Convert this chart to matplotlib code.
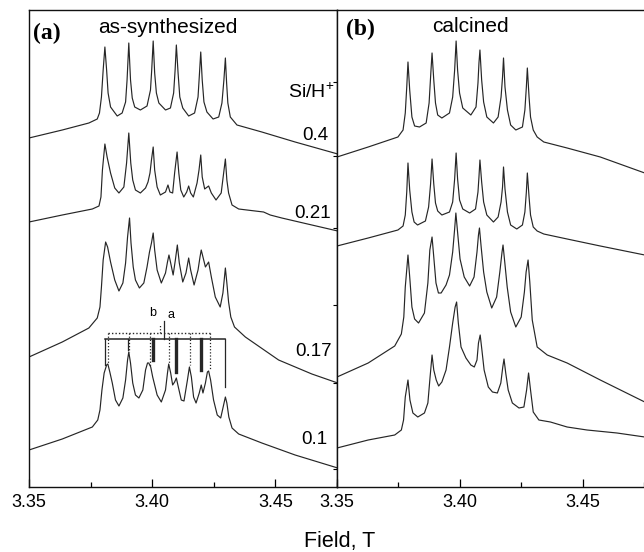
import matplotlib
matplotlib.use('Agg')
import matplotlib.pyplot as plt

plt.rcParams['font.family'] = ['Liberation Sans', 'DejaVu Sans']
plt.rcParams['mathtext.fontset'] = 'custom'
plt.rcParams['mathtext.rm'] = 'Liberation Sans'

# ---------------- data (field in T, intensity in arbitrary units, offset stacked) ----------------
ratios = ['0.4', '0.21', '0.17', '0.1']
xticks = [3.35, 3.40, 3.45]
xtick_labels = ['3.35', '3.40', '3.45']

# (a) as-synthesized
a04_field = [3.3500, 3.3635, 3.3743, 3.3777, 3.3786, 3.3794, 3.3801, 3.3808, 3.3815, 3.3821, 3.3831, 3.3858,
             3.3878, 3.3892, 3.3898, 3.3905, 3.3912, 3.3919, 3.3929, 3.3952, 3.3979, 3.3993, 3.3998, 3.4004,
             3.4010, 3.4017, 3.4027, 3.4054, 3.4074, 3.4087, 3.4093, 3.4098, 3.4105, 3.4112, 3.4124, 3.4148,
             3.4172, 3.4186, 3.4191, 3.4197, 3.4203, 3.4210, 3.4222, 3.4247, 3.4270, 3.4283, 3.4291, 3.4297,
             3.4302, 3.4307, 3.4317, 3.4344, 3.4445, 3.4580, 3.4753]
a04_int = [349, 357, 364, 368, 374, 390, 417, 440, 417, 394, 380, 371, 374, 385, 407, 444, 407, 389, 380, 377,
           381, 397, 417, 446, 414, 394, 384, 377, 379, 394, 417, 442, 414, 390, 379, 371, 374, 390, 410, 435,
           407, 385, 375, 368, 370, 384, 407, 429, 404, 384, 370, 362, 355, 345, 333]

a021_field = [3.3500, 3.3635, 3.3757, 3.3784, 3.3792, 3.3798, 3.3808, 3.3817, 3.3831, 3.3848, 3.3865, 3.3885,
              3.3896, 3.3905, 3.3913, 3.3921, 3.3932, 3.3952, 3.3973, 3.3983, 3.3991, 3.3997, 3.4004, 3.4010,
              3.4020, 3.4033, 3.4054, 3.4064, 3.4072, 3.4083, 3.4091, 3.4101, 3.4108, 3.4116, 3.4128, 3.4140,
              3.4148, 3.4156, 3.4167, 3.4182, 3.4190, 3.4197, 3.4203, 3.4213, 3.4229, 3.4240, 3.4259, 3.4280,
              3.4290, 3.4297, 3.4303, 3.4310, 3.4324, 3.4351, 3.4418, 3.4452, 3.4479, 3.4526, 3.4648, 3.4753]
a021_int = [265, 272, 278, 281, 290, 317, 343, 330, 314, 299, 294, 300, 324, 354, 324, 307, 297, 294, 299, 305,
            314, 327, 340, 317, 300, 292, 295, 302, 295, 294, 314, 335, 314, 297, 290, 295, 301, 294, 290, 304,
            317, 332, 310, 298, 301, 294, 287, 294, 314, 328, 307, 294, 282, 278, 276, 275, 272, 269, 262, 256]

a017_field = [3.3500, 3.3635, 3.3743, 3.3777, 3.3788, 3.3794, 3.3801, 3.3811, 3.3819, 3.3831, 3.3848, 3.3865,
              3.3881, 3.3892, 3.3900, 3.3908, 3.3914, 3.3923, 3.3932, 3.3948, 3.3966, 3.3979, 3.3989, 3.3997,
              3.4004, 3.4010, 3.4020, 3.4037, 3.4054, 3.4062, 3.4068, 3.4075, 3.4085, 3.4094, 3.4102, 3.4110,
              3.4124, 3.4137, 3.4148, 3.4156, 3.4170, 3.4186, 3.4194, 3.4199, 3.4209, 3.4216, 3.4229, 3.4240,
              3.4256, 3.4276, 3.4287, 3.4297, 3.4303, 3.4310, 3.4319, 3.4334, 3.4378, 3.4513, 3.4648, 3.4753]
a017_int = [130, 145, 159, 169, 180, 200, 227, 245, 240, 225, 207, 196, 204, 224, 250, 269, 244, 220, 207, 199,
            204, 220, 235, 244, 254, 237, 217, 204, 214, 225, 232, 224, 212, 227, 242, 224, 205, 214, 229, 217,
            202, 217, 230, 237, 227, 220, 225, 210, 190, 180, 194, 219, 204, 185, 170, 160, 150, 127, 113, 104]

a01_field = [3.3500, 3.3635, 3.3757, 3.3779, 3.3788, 3.3796, 3.3805, 3.3815, 3.3820, 3.3828, 3.3838, 3.3851,
             3.3865, 3.3881, 3.3892, 3.3900, 3.3905, 3.3912, 3.3921, 3.3932, 3.3946, 3.3962, 3.3973, 3.3981,
             3.3986, 3.3994, 3.4002, 3.4020, 3.4037, 3.4054, 3.4062, 3.4067, 3.4075, 3.4083, 3.4091, 3.4098,
             3.4106, 3.4118, 3.4129, 3.4143, 3.4151, 3.4159, 3.4168, 3.4178, 3.4191, 3.4199, 3.4206, 3.4216,
             3.4224, 3.4229, 3.4237, 3.4249, 3.4264, 3.4278, 3.4288, 3.4297, 3.4303, 3.4311, 3.4324, 3.4351,
             3.4445, 3.4580, 3.4753]
a01_int = [37, 48, 60, 67, 77, 97, 114, 122, 123, 115, 104, 87, 81, 89, 107, 127, 135, 124, 104, 92, 89, 97,
           117, 124, 124, 120, 110, 92, 85, 97, 114, 123, 114, 102, 105, 109, 100, 87, 86, 107, 120, 110, 90,
           84, 94, 102, 94, 104, 115, 116, 107, 87, 72, 69, 80, 90, 84, 70, 59, 53, 44, 32, 19]

# stick diagram of the two sextets (site a solid, site b dotted) drawn above the 0.1 spectrum
site_a_lines = [3.3808, 3.3902, 3.4003, 3.4098, 3.4199, 3.4294]
site_a_ends = [122, 137, 127, 115, 117, 100]
site_a_thick = [False, False, True, True, True, False]
site_b_lines = [3.3819, 3.3906, 3.3990, 3.4067, 3.4152, 3.4233]
site_b_ends = [123, 135, 120, 123, 122, 117]
site_a_level, site_b_level = 148, 154
site_a_centre, site_b_centre = 3.4047, 3.4032

# (b) calcined
b04_field = [3.3500, 3.3627, 3.3748, 3.3769, 3.3778, 3.3784, 3.3789, 3.3796, 3.3805, 3.3816, 3.3836, 3.3863,
             3.3875, 3.3882, 3.3887, 3.3894, 3.3901, 3.3910, 3.3927, 3.3958, 3.3971, 3.3979, 3.3985, 3.3991,
             3.3999, 3.4012, 3.4045, 3.4066, 3.4074, 3.4078, 3.4082, 3.4089, 3.4097, 3.4110, 3.4137, 3.4156,
             3.4168, 3.4174, 3.4178, 3.4184, 3.4194, 3.4207, 3.4228, 3.4255, 3.4265, 3.4271, 3.4275, 3.4282,
             3.4288, 3.4299, 3.4315, 3.4342, 3.4437, 3.4572, 3.4753]
b04_int = [330, 340, 350, 357, 374, 400, 425, 397, 370, 361, 360, 364, 384, 414, 434, 407, 384, 372, 369, 374,
           390, 417, 446, 417, 394, 379, 372, 380, 404, 424, 437, 407, 385, 370, 364, 370, 390, 410, 429, 400,
           377, 362, 357, 360, 377, 400, 419, 390, 370, 357, 350, 345, 339, 330, 314]

b021_field = [3.3500, 3.3627, 3.3748, 3.3769, 3.3778, 3.3784, 3.3789, 3.3796, 3.3805, 3.3814, 3.3828, 3.3860,
              3.3873, 3.3881, 3.3887, 3.3894, 3.3901, 3.3910, 3.3927, 3.3958, 3.3971, 3.3979, 3.3985, 3.3991,
              3.3999, 3.4012, 3.4040, 3.4064, 3.4074, 3.4078, 3.4082, 3.4089, 3.4097, 3.4110, 3.4137, 3.4156,
              3.4168, 3.4174, 3.4178, 3.4184, 3.4194, 3.4207, 3.4232, 3.4255, 3.4265, 3.4271, 3.4275, 3.4282,
              3.4288, 3.4299, 3.4315, 3.4342, 3.4437, 3.4572, 3.4753]
b021_int = [241, 249, 257, 261, 272, 295, 324, 297, 275, 265, 262, 266, 280, 303, 328, 303, 284, 276, 272, 275,
            285, 308, 334, 308, 287, 278, 274, 278, 295, 310, 327, 305, 285, 272, 265, 270, 285, 300, 320, 298,
            275, 262, 258, 262, 275, 295, 314, 290, 272, 260, 256, 253, 248, 241, 232]

b017_field = [3.3500, 3.3627, 3.3735, 3.3762, 3.3772, 3.3778, 3.3789, 3.3797, 3.3805, 3.3816, 3.3832, 3.3856,
              3.3870, 3.3878, 3.3887, 3.3894, 3.3903, 3.3913, 3.3924, 3.3944, 3.3958, 3.3971, 3.3979, 3.3984,
              3.3992, 3.4001, 3.4018, 3.4040, 3.4058, 3.4070, 3.4076, 3.4080, 3.4087, 3.4097, 3.4110, 3.4130,
              3.4150, 3.4163, 3.4172, 3.4176, 3.4183, 3.4193, 3.4207, 3.4228, 3.4250, 3.4263, 3.4270, 3.4278,
              3.4285, 3.4295, 3.4315, 3.4356, 3.4437, 3.4572, 3.4753]
b017_int = [110, 124, 141, 153, 170, 200, 232, 207, 180, 168, 164, 174, 204, 237, 250, 230, 204, 194, 194, 202,
            212, 235, 258, 274, 252, 228, 210, 201, 210, 235, 252, 259, 240, 215, 195, 179, 190, 215, 235, 242,
            225, 200, 175, 160, 170, 195, 215, 227, 205, 167, 140, 132, 124, 107, 85]

b01_field = [3.3500, 3.3627, 3.3735, 3.3762, 3.3771, 3.3778, 3.3789, 3.3797, 3.3809, 3.3829, 3.3856, 3.3870,
             3.3879, 3.3887, 3.3894, 3.3904, 3.3914, 3.3927, 3.3944, 3.3958, 3.3971, 3.3981, 3.3987, 3.3994,
             3.4005, 3.4025, 3.4045, 3.4059, 3.4070, 3.4076, 3.4083, 3.4090, 3.4099, 3.4116, 3.4133, 3.4153,
             3.4167, 3.4175, 3.4180, 3.4187, 3.4197, 3.4214, 3.4241, 3.4261, 3.4272, 3.4280, 3.4288, 3.4299,
             3.4322, 3.4369, 3.4437, 3.4518, 3.4640, 3.4753]
b01_int = [39, 47, 52, 57, 67, 90, 107, 87, 74, 70, 74, 84, 110, 132, 117, 107, 101, 105, 117, 140, 164, 180,
           185, 164, 140, 129, 122, 120, 127, 144, 152, 137, 117, 100, 95, 94, 104, 120, 128, 114, 97, 84, 79,
           80, 97, 114, 97, 75, 67, 65, 60, 57, 54, 50]

# ---------------- figure ----------------
W, H = 644, 552
fig = plt.figure(figsize=(W / 100, H / 100), dpi=100)
axa = fig.add_axes([29 / W, 1 - 487 / H, 308 / W, 477 / H])
axb = fig.add_axes([337 / W, 1 - 487 / H, 307 / W, 477 / H])

line_kw = dict(color='#262626', lw=0.85)
for f, y in [(a04_field, a04_int), (a021_field, a021_int), (a017_field, a017_int), (a01_field, a01_int)]:
    axa.plot(f, y, **line_kw)
for f, y in [(b04_field, b04_int), (b021_field, b021_int), (b017_field, b017_int), (b01_field, b01_int)]:
    axb.plot(f, y, **line_kw)

# stick diagram
axa.plot([site_a_lines[0], site_a_lines[-1]], [site_a_level] * 2, color='#262626', lw=1.1)
axa.plot([site_b_lines[0], site_b_lines[-1]], [site_b_level] * 2, color='#262626', lw=1.0, ls=(0, (1, 1.5)))
for x, e, thick in zip(site_a_lines, site_a_ends, site_a_thick):
    axa.plot([x, x], [site_a_level, e], color='#262626', lw=2.4 if thick else 0.9)
for x, e in zip(site_b_lines, site_b_ends):
    axa.plot([x, x], [site_b_level, e], color='#262626', lw=0.9, ls=(0, (1, 1.5)))
axa.plot([site_a_centre] * 2, [site_a_level, 166], color='#262626', lw=0.9)
axa.plot([site_b_centre] * 2, [site_b_level, 162], color='#262626', lw=0.9, ls=(0, (1, 1.5)))
axa.text(3.4003, 174, 'b', fontsize=9, ha='center', va='center')
axa.text(3.4075, 172, 'a', fontsize=9, ha='center', va='center')

for ax in (axa, axb):
    ax.set_xlim(3.35, 3.4747)
    ax.set_ylim(0, 477)
    ax.set_xticks(xticks)
    ax.set_xticklabels(xtick_labels, fontsize=13)
    ax.set_xticks([3.375, 3.425, 3.475], minor=True)
    ax.tick_params(axis='x', which='major', direction='in', length=6, width=0.9, pad=5, top=False)
    ax.tick_params(axis='x', which='minor', direction='in', length=3.5, width=0.9, top=False)
    for s in ax.spines.values():
        s.set_linewidth(1.0)
        s.set_color('#111111')

axa.set_yticks([])
axb.set_yticks([18, 104, 182, 259, 331, 405])
axb.set_yticklabels([])
axb.tick_params(axis='y', direction='out', length=3, width=0.8)
axb.spines['right'].set_visible(False)

# panel labels and annotations
axa.text(3.3515, 454, '(a)', fontsize=17, fontweight='bold', family='Liberation Serif', ha='left', va='center')
axa.text(3.4063, 454, 'as-synthesized', fontsize=15, ha='center', va='baseline')
axb.text(3.3538, 458, '(b)', fontsize=17, fontweight='bold', family='Liberation Serif', ha='left', va='center')
axb.text(3.4045, 455, 'calcined', fontsize=15, ha='center', va='baseline')

axa.text(3.4737, 395, r'Si/H$^{\mathregular{+}}$', fontsize=14, ha='right', va='center')
label_pos = [(3.4715, 352), (3.4727, 274), (3.4731, 135), (3.4711, 47)]
for r, (x, y) in zip(ratios, label_pos):
    axa.text(x, y, r, fontsize=13.5, ha='right', va='center')

fig.text(340 / W, 1 - 541 / H, 'Field, T', fontsize=15.5, ha='center', va='center')

fig.savefig('out.png', dpi=100)
